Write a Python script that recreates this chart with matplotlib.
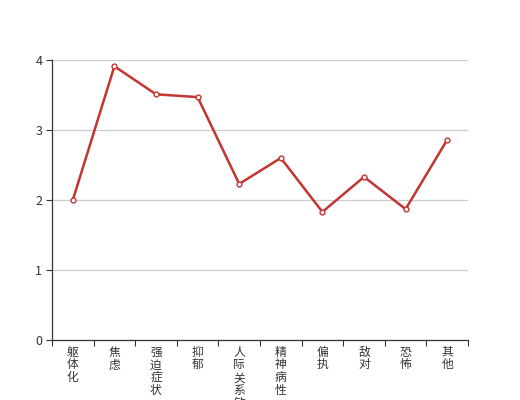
import matplotlib
matplotlib.use("Agg")
import matplotlib.pyplot as plt
import numpy as np

plt.rcParams['font.family'] = ['Noto Sans CJK SC', 'DejaVu Sans']

categories = ['躯体化', '焦虑', '强迫症状', '抑郁', '人际关系敏感', '精神病性', '偏执', '敌对', '恐怖', '其他']
values = [2.00, 3.91, 3.51, 3.47, 2.23, 2.60, 1.83, 2.33, 1.87, 2.86]
yticks = [0, 1, 2, 3, 4]

fig = plt.figure(figsize=(5.2, 4.0), dpi=100)
ax = fig.add_axes([52/520, 60/400, (468-52)/520, 280/400])

x = np.arange(len(categories))
ax.plot(x, values, color='#c23531', lw=1.8, marker='o', ms=3.5,
        mfc='white', mec='#c23531', mew=1.0, zorder=3)

ax.set_xlim(-0.5, len(categories) - 0.5)
ax.set_ylim(0, 4)
ax.set_yticks(yticks)
ax.set_yticklabels([str(v) for v in yticks])
ax.yaxis.grid(True, color='#cccccc', lw=0.9)
ax.set_axisbelow(True)

ax.set_xticks(x)
ax.set_xticklabels(['\n'.join(c) for c in categories], va='top', linespacing=0.98)
ax.set_xticks(np.arange(-0.5, len(categories)), minor=True)
ax.tick_params(axis='x', which='major', length=0, pad=4, labelsize=8.5, colors='#333333')
ax.tick_params(axis='x', which='minor', length=4, width=0.8, color='#333333')
ax.tick_params(axis='y', length=4, width=0.8, color='#333333', labelsize=9, labelcolor='#333333', pad=3)

for s in ['top', 'right']:
    ax.spines[s].set_visible(False)
for s in ['left', 'bottom']:
    ax.spines[s].set_color('#333333')
    ax.spines[s].set_linewidth(0.9)

fig.savefig('out.png', dpi=100)
